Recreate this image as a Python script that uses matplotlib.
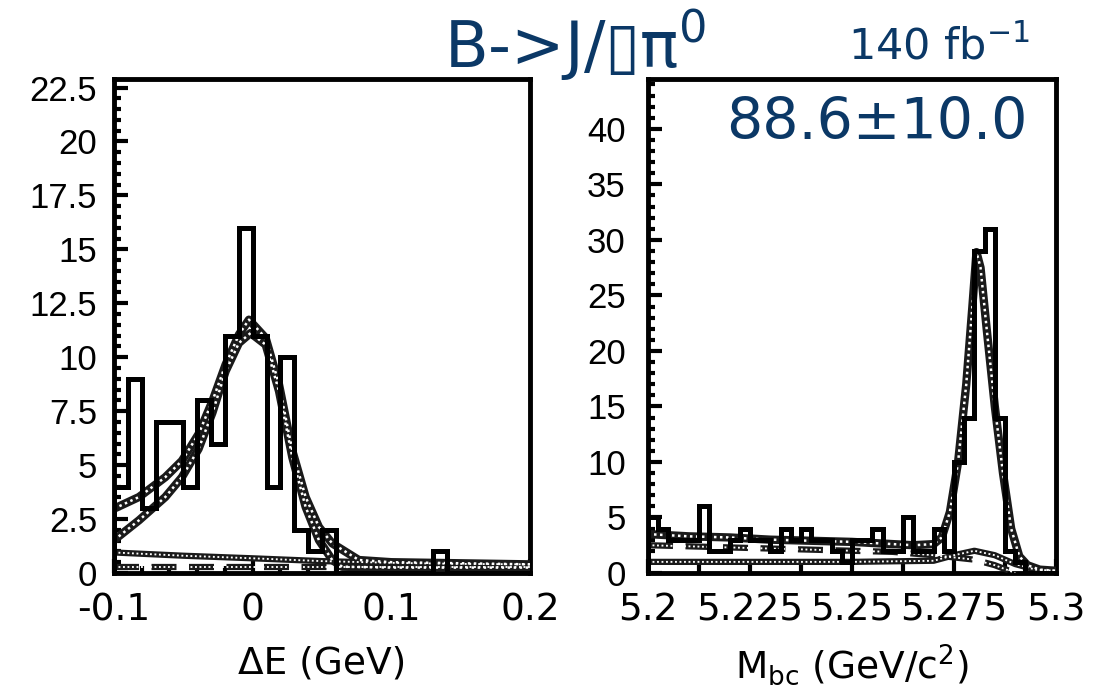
import numpy as np
import matplotlib.pyplot as plt
from matplotlib.ticker import MultipleLocator, FormatStrFormatter

plt.rcParams['font.family'] = ['Liberation Sans', 'DejaVu Sans']
plt.rcParams['mathtext.fontset'] = 'dejavusans'

# ---- Delta E panel: 30 bins from -0.1 to 0.2 GeV ----
de_edges = np.linspace(-0.1, 0.2, 31)
de_counts = [4, 9, 3, 7, 7, 4, 8, 6, 11, 16, 11, 4, 10, 2, 1, 2,
             0, 0, 0, 0, 0, 0, 0, 1, 0, 0, 0, 0, 0, 0]

# fit curves
de_tot_x = [-0.1, -0.082, -0.063, -0.051, -0.039, -0.029, -0.0195, -0.0099,
            -0.0027, 0.0094, 0.019, 0.0286, 0.0382, 0.0478, 0.0574, 0.0766,
            0.1, 0.15, 0.2]
de_tot_y = [2.98, 3.52, 4.44, 5.2, 6.44, 7.97, 9.66, 11.05,
            11.74, 10.89, 8.74, 5.67, 3.52, 2.13, 1.37, 0.6,
            0.5, 0.45, 0.4]
de_sig_x = [-0.1, -0.082, -0.063, -0.051, -0.039, -0.029, -0.0195, -0.0099,
            -0.0015, 0.0094, 0.019, 0.0286, 0.0382, 0.0478, 0.0574, 0.0646,
            0.1, 0.2]
de_sig_y = [1.52, 2.44, 3.52, 4.44, 5.75, 7.43, 9.35, 10.66,
            11.12, 10.58, 8.43, 5.36, 3.06, 1.52, 0.6, 0.29,
            0.25, 0.25]
de_bkg_x = [-0.1, -0.05, 0.0, 0.05, 0.1, 0.15, 0.2]
de_bkg_y = [0.95, 0.8, 0.68, 0.55, 0.47, 0.42, 0.4]
de_bkg2_x = [-0.1, 0.2]
de_bkg2_y = [0.28, 0.28]

# ---- Mbc panel: 40 bins from 5.2 to 5.3 GeV/c2 ----
mbc_edges = np.linspace(5.2, 5.3, 41)
mbc_counts = [5, 4, 3, 3, 3, 6, 2, 2, 3, 4, 3, 3, 2, 4, 3, 4, 3, 3, 2, 1,
              3, 3, 4, 2, 2, 5, 2, 2, 4, 2, 10, 14, 29, 31, 14, 2, 1, 0, 0, 0]

mbc_tot_x = [5.2, 5.21, 5.22, 5.23, 5.24, 5.25, 5.26, 5.265, 5.27, 5.272,
             5.274, 5.276, 5.278, 5.2795, 5.2805, 5.2815, 5.283, 5.285,
             5.287, 5.289, 5.291, 5.293, 5.296, 5.3]
mbc_tot_y = [3.5, 3.3, 3.2, 3.0, 2.9, 2.8, 2.6, 2.5, 2.6, 3.2,
             5.5, 10.0, 17.0, 24.0, 28.9, 27.5, 22.0, 15.0,
             9.0, 4.0, 1.5, 0.7, 0.3, 0.2]
mbc_arg_x = [5.2, 5.22, 5.24, 5.26, 5.27, 5.28, 5.285, 5.29]
mbc_arg_y = [2.5, 2.3, 2.1, 1.9, 1.6, 1.2, 0.7, 0.0]
mbc_pk_x = [5.2, 5.25, 5.27, 5.275, 5.28, 5.285, 5.29, 5.295, 5.3]
mbc_pk_y = [1.0, 1.0, 1.1, 1.6, 2.0, 1.6, 0.8, 0.3, 0.2]

title_txt = 'B->J/\u25af\u03c0$^0$'
lumi_txt = '140 fb$^{-1}$'
yield_txt = '88.6\u00b110.0'
blue = '#0b3866'


def stipple(ax, x, y, lw=6.0, dashed=False):
    ls = (0, (4, 2)) if dashed else '-'
    ax.plot(x, y, color='0.1', lw=lw, ls=ls, solid_capstyle='butt', zorder=3)
    ax.plot(x, y, color='white', lw=lw * 0.3, ls=(0, (1, 1.4)), zorder=4)


def style(ax):
    for s in ax.spines.values():
        s.set_linewidth(3.5)
    ax.tick_params(which='both', direction='in', top=False, right=False,
                   width=3)
    ax.tick_params(which='major', length=10)
    ax.tick_params(which='minor', length=5)
    ax.tick_params(axis='y', labelsize=25, pad=12)
    ax.tick_params(axis='x', pad=14)
    ax.xaxis.set_major_formatter(FormatStrFormatter('%g'))
    ax.yaxis.set_major_formatter(FormatStrFormatter('%g'))
    for lab in ax.get_xticklabels():
        lab.set_family('DejaVu Sans')
        lab.set_fontsize(27)


fig = plt.figure(figsize=(10.95, 6.92), dpi=100)

ax1 = fig.add_axes([0.1041, 0.172, 0.3799, 0.714])
ax1.stairs(de_counts, de_edges, color='black', lw=3.6, zorder=5)
stipple(ax1, de_tot_x, de_tot_y)
stipple(ax1, de_sig_x, de_sig_y)
stipple(ax1, de_bkg_x, de_bkg_y, lw=4.5)
stipple(ax1, de_bkg2_x, de_bkg2_y, lw=4.5, dashed=True)
ax1.set_xlim(-0.1, 0.2)
ax1.set_ylim(0, 22.9)
ax1.xaxis.set_major_locator(MultipleLocator(0.1))
ax1.xaxis.set_minor_locator(MultipleLocator(0.02))
ax1.yaxis.set_major_locator(MultipleLocator(2.5))
ax1.yaxis.set_minor_locator(MultipleLocator(0.5))
style(ax1)
ax1.set_xlabel('\u0394E (GeV)', fontsize=27, labelpad=12,
               family=['DejaVu Sans'])

ax2 = fig.add_axes([0.5918, 0.172, 0.3726, 0.714])
ax2.stairs(mbc_counts, mbc_edges, color='black', lw=3.6, zorder=5)
stipple(ax2, mbc_tot_x, mbc_tot_y)
stipple(ax2, mbc_arg_x, mbc_arg_y, lw=4.5, dashed=True)
stipple(ax2, mbc_pk_x, mbc_pk_y, lw=4.5)
ax2.set_xlim(5.2, 5.3)
ax2.set_ylim(0, 44.5)
ax2.xaxis.set_major_locator(MultipleLocator(0.025))
ax2.xaxis.set_minor_locator(MultipleLocator(0.0125))
ax2.yaxis.set_major_locator(MultipleLocator(5))
ax2.yaxis.set_minor_locator(MultipleLocator(1))
style(ax2)
ax2.tick_params(axis='x', which='minor', length=10)
ax2.tick_params(axis='y', pad=16)
ax2.set_xlabel('M$_{\\rm bc}$ (GeV/c$^2$)', fontsize=27, labelpad=10,
               family=['DejaVu Sans'])

fig.text(0.525, 0.935, title_txt, color=blue, fontsize=46,
         ha='center', va='center', family=['DejaVu Sans'])
fig.text(0.858, 0.932, lumi_txt, color=blue, fontsize=31,
         ha='center', va='center', family=['DejaVu Sans'])
ax2.text(0.56, 0.91, yield_txt, color=blue, fontsize=41,
         ha='center', va='center', transform=ax2.transAxes,
         family=['DejaVu Sans'])

fig.savefig('out.png', dpi=100)
